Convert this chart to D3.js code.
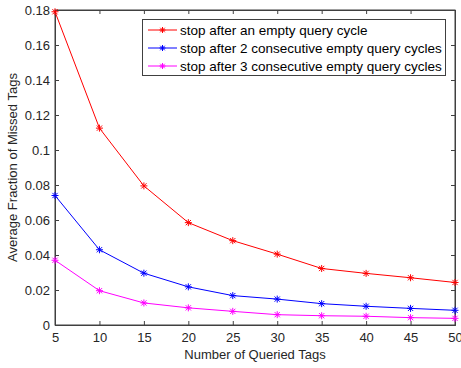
<!DOCTYPE html>
<html>
  <head>
    <script src="https://d3js.org/d3.v7.min.js"></script>
    <style>
      body { margin: 0; background: #fff; font-family: "Liberation Sans", Arial, sans-serif; }
    </style>
  </head>
  <body>
    <svg id="chart" width="461" height="368"></svg>
    <script>
      var tags = [5, 10, 15, 20, 25, 30, 35, 40, 45, 50];
      var oneEmpty = [0.179, 0.1125, 0.0795, 0.0585, 0.0482, 0.0405, 0.0323, 0.0295, 0.027, 0.0243];
      var twoEmpty = [0.074, 0.043, 0.0296, 0.0218, 0.0168, 0.0148, 0.0122, 0.0107, 0.0095, 0.0084];
      var threeEmpty = [0.037, 0.0196, 0.0126, 0.0098, 0.0078, 0.0059, 0.0053, 0.005, 0.0042, 0.0038];
      var seriesNames = [
        "stop after an empty query cycle",
        "stop after 2 consecutive empty query cycles",
        "stop after 3 consecutive empty query cycles",
      ];
      var colors = ["#ff0000", "#0000ff", "#ff00ff"];
      var yTicks = [0, 0.02, 0.04, 0.06, 0.08, 0.1, 0.12, 0.14, 0.16, 0.18];

      var svg = d3.select("#chart");
      var pLeft = 55, pRight = 455, pTop = 10, pBottom = 325;
      var axisColor = "#404040";

      var x = d3.scaleLinear().domain([5, 50]).range([pLeft, pRight]);
      var y = d3.scaleLinear().domain([0, 0.18]).range([pBottom, pTop]);

      // frame
      svg.append("rect")
        .attr("x", pLeft).attr("y", pTop)
        .attr("width", pRight - pLeft).attr("height", pBottom - pTop)
        .attr("fill", "#fff").attr("stroke", axisColor).attr("stroke-width", 1);

      var xAxis = svg.append("g")
        .attr("transform", "translate(0," + pBottom + ")")
        .call(d3.axisBottom(x).tickValues(tags).tickSize(-4).tickPadding(8).tickFormat(d3.format("d")));
      var xTop = svg.append("g")
        .attr("transform", "translate(0," + pTop + ")")
        .call(d3.axisTop(x).tickValues(tags).tickSize(-4).tickFormat(""));
      var yAxis = svg.append("g")
        .attr("transform", "translate(" + pLeft + ",0)")
        .call(d3.axisLeft(y).tickValues(yTicks).tickSize(-4).tickPadding(5)
          .tickFormat(function (d) { return d === 0 ? "0" : String(+d.toFixed(2)); }));
      var yRight = svg.append("g")
        .attr("transform", "translate(" + pRight + ",0)")
        .call(d3.axisRight(y).tickValues(yTicks).tickSize(-4).tickFormat(""));

      [xAxis, xTop, yAxis, yRight].forEach(function (g) {
        g.select(".domain").attr("stroke", axisColor);
        g.selectAll(".tick line").attr("stroke", axisColor);
        g.selectAll("text")
          .style("font-family", "Liberation Sans, Arial, sans-serif")
          .style("font-size", "13px")
          .attr("fill", "#262626");
      });

      svg.append("text")
        .attr("x", (pLeft + pRight) / 2).attr("y", 359)
        .attr("text-anchor", "middle")
        .style("font-size", "13px").attr("fill", "#262626")
        .text("Number of Queried Tags");
      svg.append("text")
        .attr("transform", "translate(17," + (pTop + pBottom) / 2 + ") rotate(-90)")
        .attr("text-anchor", "middle")
        .style("font-size", "13px").attr("fill", "#262626")
        .text("Average Fraction of Missed Tags");

      var line = d3.line().x(function (d) { return x(d[0]); }).y(function (d) { return y(d[1]); });

      function star(g, cx, cy, color, r) {
        var s = g.append("g").attr("transform", "translate(" + cx + "," + cy + ")")
          .attr("stroke", color).attr("stroke-width", 1);
        s.append("line").attr("x1", -r).attr("x2", r).attr("y1", 0).attr("y2", 0);
        s.append("line").attr("x1", 0).attr("x2", 0).attr("y1", -r).attr("y2", r);
        var k = r * 0.75;
        s.append("line").attr("x1", -k).attr("x2", k).attr("y1", -k).attr("y2", k);
        s.append("line").attr("x1", -k).attr("x2", k).attr("y1", k).attr("y2", -k);
      }

      [oneEmpty, twoEmpty, threeEmpty].forEach(function (vals, i) {
        var pts = tags.map(function (t, j) { return [t, vals[j]]; });
        var g = svg.append("g");
        g.append("path").attr("d", line(pts))
          .attr("fill", "none").attr("stroke", colors[i]).attr("stroke-width", 1);
        pts.forEach(function (p) { star(g, x(p[0]), y(p[1]), colors[i], 3.5); });
      });

      // legend
      var lg = svg.append("g");
      lg.append("rect")
        .attr("x", 142.5).attr("y", 19.5).attr("width", 303).attr("height", 56)
        .attr("fill", "#fff").attr("stroke", axisColor).attr("stroke-width", 1);
      seriesNames.forEach(function (name, i) {
        var ly = 30 + i * 18;
        lg.append("line").attr("x1", 148).attr("x2", 177).attr("y1", ly).attr("y2", ly)
          .attr("stroke", colors[i]).attr("stroke-width", 1);
        star(lg, 162.5, ly, colors[i], 3);
        lg.append("text").attr("x", 180).attr("y", ly + 5)
          .style("font-size", "13.5px").attr("fill", "#000")
          .text(name);
      });
    </script>
  </body>
</html>
